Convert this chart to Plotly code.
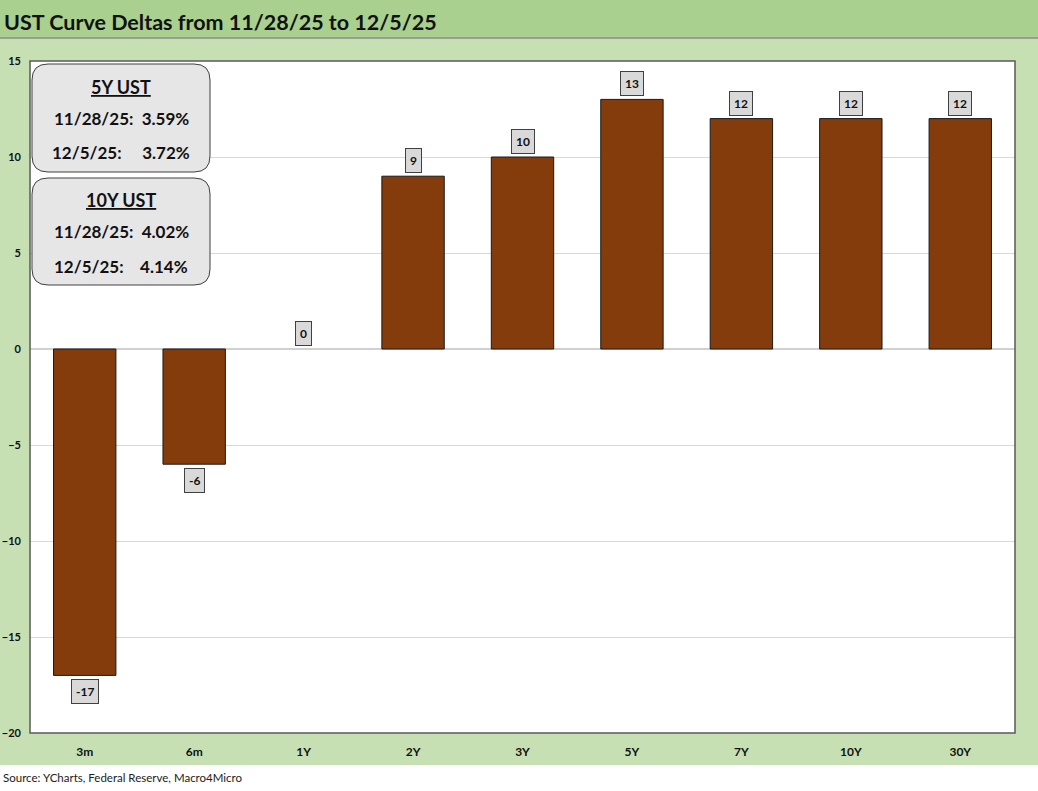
import plotly.graph_objects as go

categories = ["3m", "6m", "1Y", "2Y", "3Y", "5Y", "7Y", "10Y", "30Y"]
deltas = [-17, -6, 0, 9, 10, 13, 12, 12, 12]

title_text = "UST Curve Deltas from 11/28/25 to 12/5/25"
source_text = "Source: YCharts, Federal Reserve, Macro4Micro"
box1_lines = ["<u>5Y UST</u>", "11/28/25:  3.59%", "12/5/25:     3.72%"]
box2_lines = ["<u>10Y UST</u>", "11/28/25:  4.02%", "12/5/25:    4.14%"]

W, H = 1038, 791
L, R, T, B = 30, 1015, 61, 733
PW, PH = R - L, B - T

def px(x):
    return (x - L) / PW

def py(y):
    return (B - y) / PH

FONT = "Lato"
BAR = "#843c0c"

fig = go.Figure()
fig.add_trace(go.Bar(
    x=categories, y=deltas, width=0.57,
    marker=dict(color=BAR, line=dict(color="#1a1a1a", width=[0 if v == 0 else 1 for v in deltas])),
    hoverinfo="x+y", showlegend=False,
))

annotations = []
for c, v in zip(categories, deltas):
    annotations.append(dict(
        x=c, y=v, xref="x", yref="y", text=f"<b>{v}</b>", showarrow=False,
        yanchor="top" if v < 0 else "bottom", yshift=-4 if v < 0 else 3,
        font=dict(family=FONT, size=12, color="#111"),
        bgcolor="#d9d9d9", bordercolor="#404040", borderwidth=1, borderpad=4,
    ))

shapes = []
shapes.append(dict(type="rect", xref="paper", yref="paper", x0=px(0), x1=px(W),
                   y0=py(38), y1=py(0), fillcolor="#a9d08e", line=dict(width=0), layer="below"))
shapes.append(dict(type="line", xref="paper", yref="paper", x0=px(0), x1=px(W),
                   y0=py(38), y1=py(38), line=dict(color="#8c8c8c", width=1.5)))
shapes.append(dict(type="rect", xref="paper", yref="paper", x0=px(0), x1=px(W),
                   y0=py(H), y1=py(765), fillcolor="white", line=dict(width=0), layer="below"))
shapes.append(dict(type="rect", xref="paper", yref="paper", x0=0, x1=1, y0=0, y1=1,
                   line=dict(color="#595959", width=1.5)))

def rounded(x0, y0, x1, y1, r=16):
    rx, ry = r / PW, r / PH
    X0, X1 = px(x0), px(x1)
    Y0, Y1 = py(y1), py(y0)
    return (f"M {X0+rx},{Y1} L {X1-rx},{Y1} Q {X1},{Y1} {X1},{Y1-ry} "
            f"L {X1},{Y0+ry} Q {X1},{Y0} {X1-rx},{Y0} L {X0+rx},{Y0} "
            f"Q {X0},{Y0} {X0},{Y0+ry} L {X0},{Y1-ry} Q {X0},{Y1} {X0+rx},{Y1} Z")

for (y0, y1) in [(64, 172), (178, 285)]:
    shapes.append(dict(type="path", xref="paper", yref="paper", path=rounded(32, y0, 210, y1),
                       fillcolor="#e7e6e6", line=dict(color="#404040", width=1)))

for lines, ys in [(box1_lines, [87, 118, 153]), (box2_lines, [200, 231, 266])]:
    for i, (t, yy) in enumerate(zip(lines, ys)):
        annotations.append(dict(
            x=px(121), y=py(yy), xref="paper", yref="paper", text=f"<b>{t}</b>",
            showarrow=False, xanchor="center", yanchor="middle",
            font=dict(family=FONT, size=18 if i == 0 else 17, color="#111"),
        ))

annotations.append(dict(x=px(2), y=py(22), xref="paper", yref="paper", text=f"<b>{title_text}</b>",
                        showarrow=False, xanchor="left", yanchor="middle",
                        font=dict(family=FONT, size=21.5, color="#111")))
annotations.append(dict(x=px(1), y=py(777), xref="paper", yref="paper", text=source_text,
                        showarrow=False, xanchor="left", yanchor="middle",
                        font=dict(family=FONT, size=11.5, color="#222")))

fig.update_layout(
    width=W, height=H,
    margin=dict(l=L, r=W - R, t=T, b=H - B, autoexpand=False),
    paper_bgcolor="#c6e0b4", plot_bgcolor="white",
    font=dict(family=FONT, color="#111"),
    xaxis=dict(showgrid=False, ticks="", showline=False, ticklabelstandoff=10, automargin=False,
               tickfont=dict(family=FONT, size=12, color="#111", weight="bold")),
    yaxis=dict(range=[-20, 15], dtick=5, showgrid=True, gridcolor="#d9d9d9", gridwidth=1,
               zeroline=True, zerolinecolor="#d0d0d0", zerolinewidth=1.5, ticks="",
               ticklabelstandoff=8, automargin=False,
               tickfont=dict(family=FONT, size=11, color="#111", weight="bold")),
    shapes=shapes, annotations=annotations,
)

fig.write_html("out.html", config={"displayModeBar": False},
               post_script="document.body.style.margin='0';document.body.style.overflow='hidden';")
